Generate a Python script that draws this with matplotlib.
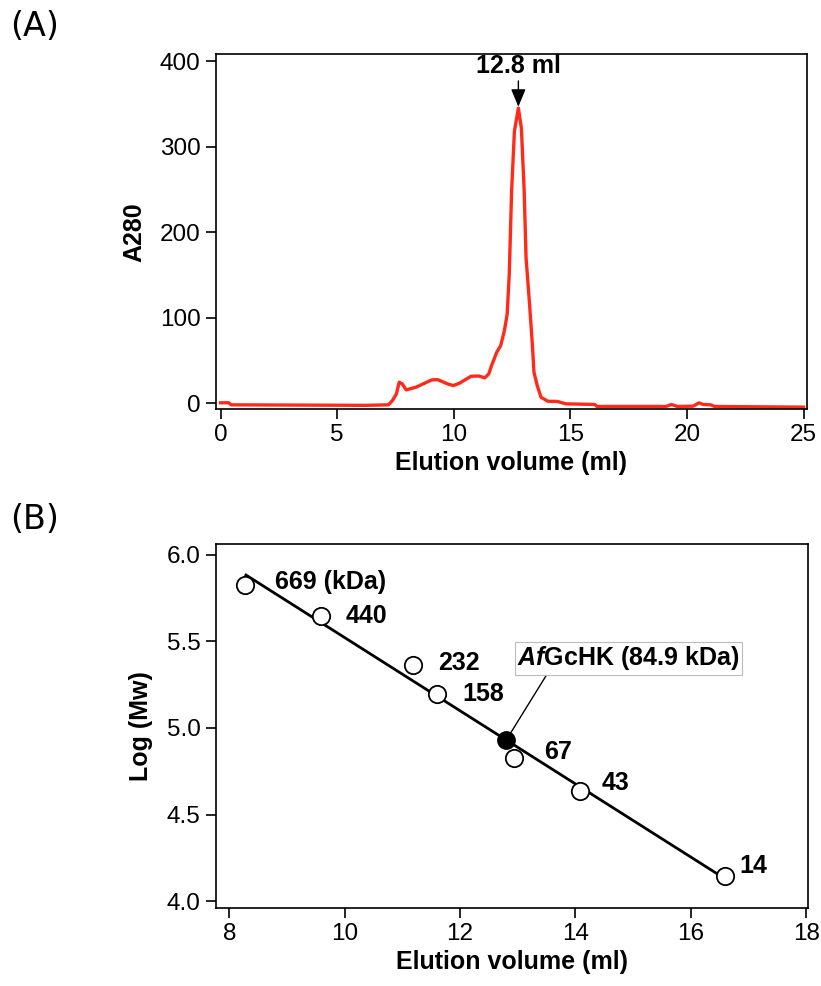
import matplotlib
matplotlib.use("Agg")
import matplotlib.pyplot as plt
import numpy as np

plt.rcParams['font.family'] = ['Liberation Sans', 'DejaVu Sans']
plt.rcParams['mathtext.fontset'] = 'custom'
plt.rcParams['mathtext.bfit'] = 'Liberation Sans:italic:bold'
plt.rcParams['mathtext.it'] = 'Liberation Sans:italic:bold'

# (A) chromatogram
vol = [0.0, 0.35, 0.45, 6.2, 7.2, 7.37, 7.54, 7.66, 7.79, 7.96, 8.38, 9.05, 9.31,
       9.73, 9.98, 10.24, 10.74, 11.08, 11.33, 11.5, 11.62, 11.84, 12.01, 12.17,
       12.29, 12.38, 12.48, 12.6, 12.77, 12.9, 13.02, 13.1, 13.24, 13.36, 13.44,
       13.58, 13.74, 14.03, 14.45, 14.79, 16.05, 16.14, 19.1, 19.34, 19.59, 20.26,
       20.52, 20.69, 21.02, 21.19, 25.0]
a280 = [0.5, 0.5, -1.9, -2.5, -1.9, 3.1, 10.9, 24.5, 22.6, 15.6, 18.7, 27.2, 27.6,
        22.6, 20.6, 23.3, 31.5, 31.8, 29.6, 34.2, 43.9, 59.4, 67.2, 84.7,
        104, 150.7, 247.8, 317.7, 345, 321.5, 247.8, 170, 119.6, 73, 36.1,
        20.6, 7.0, 2.3, 2.0, -0.7, -1.5, -3.8, -3.8, -1.5, -3.8, -3.5,
        0.4, -1.5, -1.9, -3.8, -4.6]

# (B) calibration standards
std_vol = [8.28, 9.59, 11.19, 11.6, 12.94, 14.08, 16.59]
std_mw = [669, 440, 232, 158, 67, 43, 14]  # kDa
std_labels = ['669 (kDa)', '440', '232', '158', '67', '43', '14']
label_off = [(30, 3), (25, 0), (25, 2), (25, 0), (30, 6), (22, 8), (15, 10)]
sample_vol = 12.8
sample_mw = 84.9

fig = plt.figure(figsize=(8.21, 9.86), dpi=100)
ax1 = fig.add_axes([0.263, 0.585, 0.720, 0.360])
ax2 = fig.add_axes([0.263, 0.079, 0.721, 0.369])

red = '#ff2a1a'
ax1.plot(vol, a280, color=red, lw=2.4)
ax1.set_xlim(-0.2, 25.15)
ax1.set_ylim(-7, 408)
ax1.set_xticks([0, 5, 10, 15, 20, 25])
ax1.set_yticks([0, 100, 200, 300, 400])
ax1.set_xlabel('Elution volume (ml)', fontsize=18, fontweight='bold', labelpad=3)
ax1.set_ylabel('A280', fontsize=18, fontweight='bold', labelpad=10)

ipk = int(np.argmax(a280))
ax1.annotate('12.8 ml', xy=(vol[ipk], a280[ipk]), xytext=(0, 30),
             textcoords='offset pixels', ha='center', va='bottom',
             fontsize=18, fontweight='bold',
             arrowprops=dict(arrowstyle='-|>,head_width=0.25,head_length=0.6',
                             color='k', lw=1, shrinkA=0, shrinkB=1))

y_std = np.log10(np.array(std_mw) * 1000.0)
coef = np.polyfit(std_vol, y_std, 1)
xfit = np.array([8.29, 16.56])
ax2.plot(xfit, np.polyval(coef, xfit), color='k', lw=2)
ax2.plot(std_vol, y_std, 'o', mfc='white', mec='k', ms=12.5, mew=1.3)
ys = np.log10(sample_mw * 1000.0)
ax2.plot([sample_vol], [ys], 'o', color='k', ms=12.5)

for xv, yv, lab, off in zip(std_vol, y_std, std_labels, label_off):
    ax2.annotate(lab, xy=(xv, yv), xytext=off, textcoords='offset pixels',
                 ha='left', va='center', fontsize=18, fontweight='bold')

ax2.annotate(r'$\mathit{Af}$GcHK (84.9 kDa)', xy=(sample_vol, ys), xytext=(11, 82),
             textcoords='offset pixels', ha='left', va='center',
             fontsize=18, fontweight='bold',
             bbox=dict(boxstyle='square,pad=0.1', fc='white', ec='#bbbbbb', lw=0.8),
             arrowprops=dict(arrowstyle='-', color='k', lw=1, relpos=(0.14, 0),
                             shrinkA=0, shrinkB=4))

ax2.set_xlim(7.77, 18.03)
ax2.set_ylim(3.96, 6.06)
ax2.set_xticks([8, 10, 12, 14, 16, 18])
ax2.set_yticks([4.0, 4.5, 5.0, 5.5, 6.0])
ax2.yaxis.set_major_formatter(matplotlib.ticker.FormatStrFormatter('%.1f'))
ax2.set_xlabel('Elution volume (ml)', fontsize=18, fontweight='bold', labelpad=3)
ax2.set_ylabel('Log (Mw)', fontsize=18, fontweight='bold', labelpad=10)

for ax in (ax1, ax2):
    ax.tick_params(direction='out', length=7, width=1.2, labelsize=17.5, pad=4)
    for s in ax.spines.values():
        s.set_linewidth(1.2)

fig.text(0.012, 0.99, '(A)', fontsize=24, va='top', ha='left', family='DejaVu Sans')
fig.text(0.012, 0.49, '(B)', fontsize=24, va='top', ha='left', family='DejaVu Sans')

fig.savefig('out.png', dpi=100)
